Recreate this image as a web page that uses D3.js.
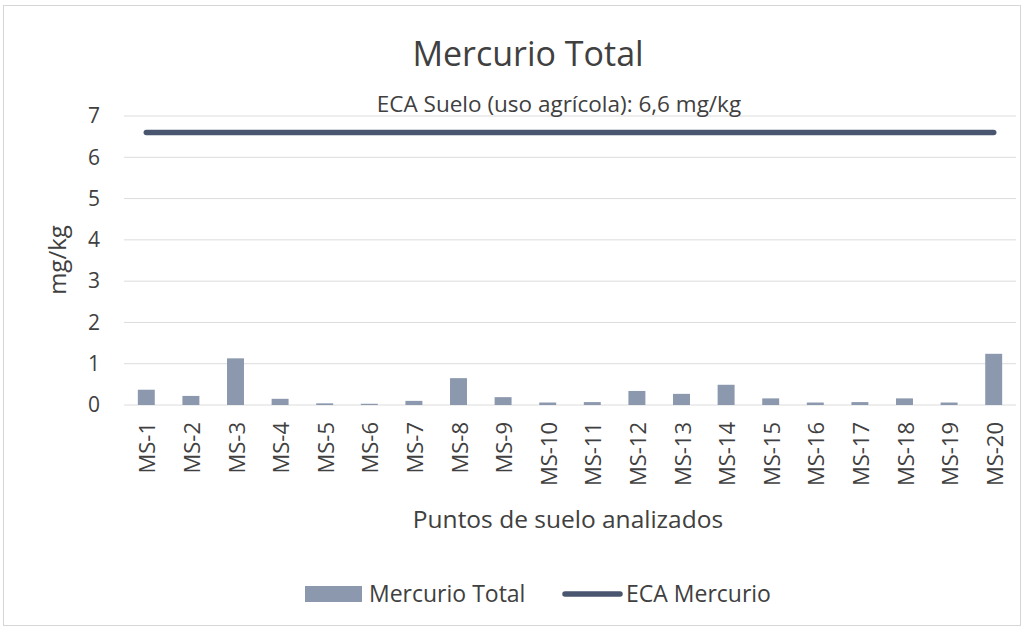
<!DOCTYPE html>
<html>
<head>
<meta charset="utf-8">
<script src="https://cdn.jsdelivr.net/npm/d3@7"></script>
<style>
  body { margin: 0; background: #fff; }
  text { font-family: "Open Sans", "Liberation Sans", sans-serif; fill: #404040; }
</style>
</head>
<body>
<div id="chart"></div>
<script>
var svgWidth = 1026, svgHeight = 631;
var margin = {top: 116, right: 10, bottom: 226, left: 124};
var width = 1016 - margin.left;
var height = 405 - margin.top;

// data
var puntos = ["MS-1","MS-2","MS-3","MS-4","MS-5","MS-6","MS-7","MS-8","MS-9","MS-10",
              "MS-11","MS-12","MS-13","MS-14","MS-15","MS-16","MS-17","MS-18","MS-19","MS-20"];
var mercurio = [0.37, 0.22, 1.13, 0.15, 0.04, 0.03, 0.10, 0.65, 0.19, 0.06,
                0.07, 0.34, 0.27, 0.49, 0.16, 0.06, 0.07, 0.16, 0.06, 1.24];
var eca = [6.6, 6.6, 6.6, 6.6, 6.6, 6.6, 6.6, 6.6, 6.6, 6.6,
           6.6, 6.6, 6.6, 6.6, 6.6, 6.6, 6.6, 6.6, 6.6, 6.6];
var yTicks = [0, 1, 2, 3, 4, 5, 6, 7];

var barColor = "#8b98ad", lineColor = "#4a5670";

var svg = d3.select("#chart").append("svg")
    .attr("width", svgWidth)
    .attr("height", svgHeight);

// frame
svg.append("rect")
    .attr("x", 3.5).attr("y", 5.5)
    .attr("width", 1017).attr("height", 620)
    .attr("fill", "none").attr("stroke", "#d6d6d6");

var g = svg.append("g")
    .attr("transform", "translate(" + margin.left + "," + margin.top + ")");

var x = d3.scaleBand().domain(puntos).range([0, width]).paddingInner(0.62).paddingOuter(0.31);
var y = d3.scaleLinear().domain([0, 7]).range([height, 0]);

// gridlines
g.append("g").selectAll("line")
    .data(yTicks)
    .enter().append("line")
    .attr("x1", 0).attr("x2", width)
    .attr("y1", function(d) { return y(d); })
    .attr("y2", function(d) { return y(d); })
    .attr("stroke", "#dcdcdc").attr("stroke-width", 1);

// y axis labels
var yAxis = d3.axisLeft(y).tickValues(yTicks).tickFormat(d3.format("d")).tickSize(0).tickPadding(24);
g.append("g").attr("class", "yAxis").call(yAxis)
    .call(function(s) { s.select(".domain").remove(); })
    .selectAll("text")
    .attr("font-size", 21).attr("fill", "#404040")
    .style("font-family", "'Open Sans', sans-serif");

// x axis labels
var xAxis = d3.axisBottom(x).tickSize(0).tickPadding(0);
g.append("g").attr("class", "xAxis")
    .attr("transform", "translate(0," + height + ")")
    .call(xAxis)
    .call(function(s) { s.select(".domain").remove(); })
    .selectAll("text")
    .attr("font-size", 22).attr("fill", "#404040")
    .style("font-family", "'Open Sans', sans-serif")
    .attr("text-anchor", "end")
    .attr("transform", "translate(9,17) rotate(-90)")
    .attr("dy", 0).attr("y", 0);

// bars
g.selectAll(".bar")
    .data(mercurio)
    .enter().append("rect")
    .attr("class", "bar")
    .attr("x", function(d, i) { return x(puntos[i]); })
    .attr("width", x.bandwidth())
    .attr("y", function(d) { return y(d); })
    .attr("height", function(d) { return height - y(d); })
    .attr("fill", barColor);

// ECA line
var line = d3.line()
    .x(function(d, i) { return x(puntos[i]) + x.bandwidth() / 2; })
    .y(function(d) { return y(d); });

g.append("path")
    .datum(eca)
    .attr("fill", "none")
    .attr("stroke", lineColor)
    .attr("stroke-width", 5.5)
    .attr("stroke-linecap", "round")
    .attr("d", line);

// title and annotation
svg.append("text")
    .attr("x", 528).attr("y", 66)
    .attr("text-anchor", "middle")
    .attr("font-size", 34)
    .attr("fill", "#595959")
    .text("Mercurio Total");

svg.append("text")
    .attr("x", 559).attr("y", 112)
    .attr("text-anchor", "middle")
    .attr("font-size", 22.5)
    .text("ECA Suelo (uso agrícola): 6,6 mg/kg");

// axis titles
svg.append("text")
    .attr("transform", "translate(66,260) rotate(-90)")
    .attr("text-anchor", "middle")
    .attr("font-size", 24)
    .text("mg/kg");

svg.append("text")
    .attr("x", 568).attr("y", 528)
    .attr("text-anchor", "middle")
    .attr("font-size", 24.5)
    .text("Puntos de suelo analizados");

// legend
var legend = svg.append("g").attr("transform", "translate(0,594)");
legend.append("rect")
    .attr("x", 305).attr("y", -8).attr("width", 57).attr("height", 16)
    .attr("fill", barColor);
legend.append("text")
    .attr("x", 369).attr("y", 8)
    .attr("font-size", 23)
    .text("Mercurio Total");
legend.append("line")
    .attr("x1", 565).attr("x2", 620).attr("y1", 0).attr("y2", 0)
    .attr("stroke", lineColor).attr("stroke-width", 5.5).attr("stroke-linecap", "round");
legend.append("text")
    .attr("x", 626).attr("y", 8)
    .attr("font-size", 23)
    .text("ECA Mercurio");
</script>
</body>
</html>
